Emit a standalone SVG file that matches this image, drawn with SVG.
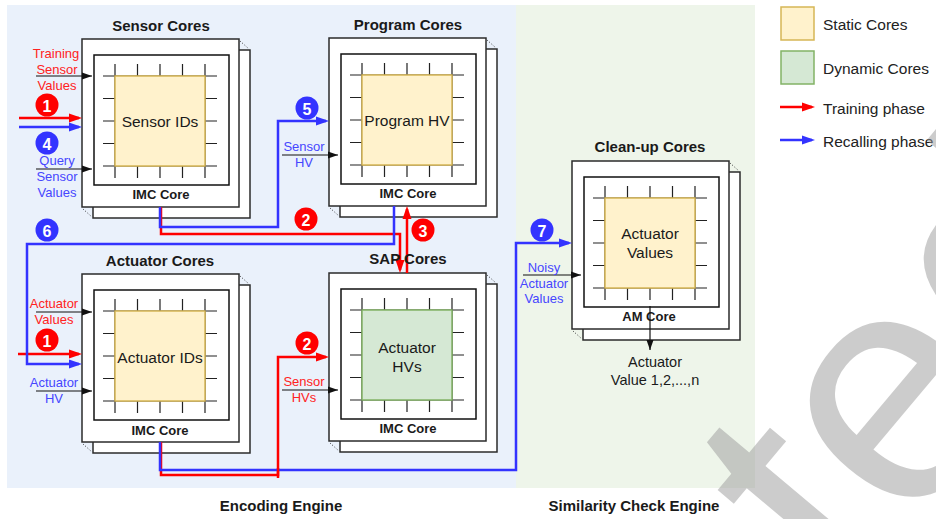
<svg xmlns="http://www.w3.org/2000/svg" xmlns:xlink="http://www.w3.org/1999/xlink" width="936" height="519" viewBox="0 0 936 519">
  <style>
    text { font-family: "Liberation Sans", Arial, sans-serif; text-anchor: middle; dominant-baseline: central; fill: #1a1a1a; }
    .title { font-size: 15px; font-weight: bold; }
    .corelbl { font-size: 13px; font-weight: bold; }
    .inner { font-size: 15.5px; }
    .side { font-size: 13px; }
    .red { fill: #ff2222; }
    .blue { fill: #4646ff; }
    .num { font-size: 16px; font-weight: bold; fill: #ffffff; }
    .legend { font-size: 15.5px; text-anchor: start; fill: #222; }
    .engine { font-size: 15px; font-weight: bold; }
    .box { fill: #ffffff; stroke: #2b2b2b; stroke-width: 1.5; }
    .grid { stroke: #222; stroke-width: 1.2; }
    .static { fill: #fff2cc; stroke: #d6b656; stroke-width: 1.5; }
    .dynamic { fill: #d5e8d4; stroke: #82b366; stroke-width: 1.5; }
    .wr { fill: none; stroke: #ff0000; stroke-width: 2.5; }
    .wb { fill: none; stroke: #3333ff; stroke-width: 2.5; }
    .wk { fill: none; stroke: #111; stroke-width: 1.2; }
    .cr { fill: #ff0000; }
    .cb { fill: #3333ff; }
  </style>
  <defs>
    <marker id="ah-red" markerUnits="userSpaceOnUse" markerWidth="14" markerHeight="10" refX="10" refY="5" orient="auto">
      <path d="M0,0.5 L13,5 L0,9.5 z" fill="#ff0000"/>
    </marker>
    <marker id="ah-blue" markerUnits="userSpaceOnUse" markerWidth="14" markerHeight="10" refX="10" refY="5" orient="auto">
      <path d="M0,0.5 L13,5 L0,9.5 z" fill="#3333ff"/>
    </marker>
    <marker id="ah-black" markerUnits="userSpaceOnUse" markerWidth="11" markerHeight="8" refX="10" refY="4" orient="auto">
      <path d="M0,0.5 L10,4 L0,7.5 z" fill="#111"/>
    </marker>
    <!-- stacked core frame with crossbar grid; origin = front box top-left -->
    <g id="frame">
      <rect class="box" x="11" y="11" width="157" height="168"/>
      <rect class="box" x="0" y="0" width="157" height="168"/>
      <path d="M158,2 L167,10 M1,170 L10,178" stroke="#333" stroke-width="1" stroke-dasharray="1 2" fill="none"/>
      <rect x="12" y="16" width="135" height="130" fill="#fff" stroke="#111" stroke-width="1.5"/>
      <path class="grid" d="M21,37 H135 M21,59.5 H135 M21,82 H135 M21,104.5 H135 M21,127 H135 M33,25 V139 M55.5,25 V139 M78,25 V139 M100.5,25 V139 M123,25 V139"/>
    </g>
  </defs>

  <!-- engine backgrounds -->
  <rect x="7" y="5" width="509" height="483" fill="#eaf1fb"/>
  <rect x="516" y="5" width="239" height="483" fill="#eef5ea"/>
  <text class="engine" x="281" y="505">Encoding Engine</text>
  <text class="engine" x="634" y="505">Similarity Check Engine</text>

  <!-- legend -->
  <g id="legend">
    <rect class="static" x="781" y="7" width="33" height="33"/>
    <text class="legend" x="823" y="24">Static Cores</text>
    <rect class="dynamic" x="781" y="51" width="33" height="33"/>
    <text class="legend" x="823" y="68">Dynamic Cores</text>
    <path class="wr" d="M780,107 H812" marker-end="url(#ah-red)"/>
    <text class="legend" x="823" y="108">Training phase</text>
    <path class="wb" d="M780,140 H812" marker-end="url(#ah-blue)"/>
    <text class="legend" x="823" y="141">Recalling phase</text>
  </g>

  <!-- cores -->
  <g id="sensor-cores">
    <text class="title" x="161" y="25">Sensor Cores</text>
    <use xlink:href="#frame" href="#frame" x="82" y="39"/>
    <rect class="static" x="115" y="76" width="90" height="90"/>
    <text class="inner" x="160" y="121">Sensor IDs</text>
    <text class="corelbl" x="161" y="194">IMC Core</text>
  </g>
  <g id="program-cores">
    <text class="title" x="408" y="24">Program Cores</text>
    <use xlink:href="#frame" href="#frame" x="329" y="38"/>
    <rect class="static" x="362" y="75" width="90" height="90"/>
    <text class="inner" x="407" y="120">Program HV</text>
    <text class="corelbl" x="408" y="193">IMC Core</text>
  </g>
  <g id="actuator-cores">
    <text class="title" x="160" y="260">Actuator Cores</text>
    <use xlink:href="#frame" href="#frame" x="82" y="274"/>
    <rect class="static" x="115" y="311" width="90" height="90"/>
    <text class="inner" x="160" y="357">Actuator IDs</text>
    <text class="corelbl" x="160" y="430">IMC Core</text>
  </g>
  <g id="sap-cores">
    <use xlink:href="#frame" href="#frame" x="329" y="273"/>
    <rect class="dynamic" x="362" y="310" width="90" height="90"/>
    <text class="inner" x="407" y="347">Actuator</text>
    <text class="inner" x="407" y="366">HVs</text>
    <text class="corelbl" x="408" y="428">IMC Core</text>
  </g>
  <g id="cleanup-cores">
    <text class="title" x="650" y="146">Clean-up Cores</text>
    <use xlink:href="#frame" href="#frame" x="572" y="161"/>
    <rect class="static" x="605" y="198" width="90" height="90"/>
    <text class="inner" x="650" y="233">Actuator</text>
    <text class="inner" x="650" y="252">Values</text>
    <text class="corelbl" x="649" y="316">AM Core</text>
  </g>

  <!-- connectors -->
  <g id="connectors">
    <!-- black data inputs -->
    <path class="wk" d="M36,76 H92" marker-end="url(#ah-black)"/>
    <path class="wk" d="M36,169 H92" marker-end="url(#ah-black)"/>
    <path class="wk" d="M282,155 H338" marker-end="url(#ah-black)"/>
    <path class="wk" d="M36,312 H92" marker-end="url(#ah-black)"/>
    <path class="wk" d="M36,391 H92" marker-end="url(#ah-black)"/>
    <path class="wk" d="M282,390 H338" marker-end="url(#ah-black)"/>
    <path class="wk" d="M523,275 H581" marker-end="url(#ah-black)"/>
    <path class="wk" d="M650,306 V350" marker-end="url(#ah-black)"/>

    <!-- training phase -->
    <path class="wr" d="M19,118 H79" marker-end="url(#ah-red)"/>
    <path class="wr" d="M18,354 H79" marker-end="url(#ah-red)"/>
    <path class="wr" d="M161,207 V234 H400 V270" marker-end="url(#ah-red)"/>
    <path class="wr" d="M407,273 V209" marker-end="url(#ah-red)"/>
    <path class="wr" d="M161,442 V475 H278 V357 H326" marker-end="url(#ah-red)"/>

    <!-- recalling phase -->
    <path class="wb" d="M19,127 H79" marker-end="url(#ah-blue)"/>
    <path class="wb" d="M160,207 V227 H278 V121 H326" marker-end="url(#ah-blue)"/>
    <path class="wb" d="M394,206 V244 H27 V364 H79" marker-end="url(#ah-blue)"/>
    <path class="wb" d="M160,442 V470 H516 V243 H569" marker-end="url(#ah-blue)"/>
    <path class="wr" d="M278,468 V478"/>
  </g>

  <!-- SAP title sits over its incoming lines -->
  <text class="title" x="408" y="258">SAP Cores</text>

  <!-- side labels -->
  <g id="labels">
    <text class="side red" x="56" y="53">Training</text>
    <text class="side red" x="57" y="69">Sensor</text>
    <text class="side red" x="57" y="85">Values</text>
    <text class="side blue" x="57" y="160">Query</text>
    <text class="side blue" x="57" y="176">Sensor</text>
    <text class="side blue" x="57" y="192">Values</text>
    <text class="side blue" x="304" y="146">Sensor</text>
    <text class="side blue" x="304" y="162">HV</text>
    <text class="side red" x="54" y="303">Actuator</text>
    <text class="side red" x="54" y="319">Values</text>
    <text class="side blue" x="54" y="382">Actuator</text>
    <text class="side blue" x="54" y="398">HV</text>
    <text class="side red" x="304" y="381">Sensor</text>
    <text class="side red" x="304" y="397">HVs</text>
    <text class="side blue" x="544" y="267">Noisy</text>
    <text class="side blue" x="544" y="283">Actuator</text>
    <text class="side blue" x="544" y="298">Values</text>
    <text class="inner" x="655" y="362" style="font-size:14.5px">Actuator</text>
    <text class="inner" x="655" y="380" style="font-size:14.5px">Value 1,2,...,n</text>
  </g>

  <!-- step badges -->
  <g id="steps">
    <circle class="cr" cx="47" cy="105" r="11.5"/><text class="num" x="47" y="106">1</text>
    <circle class="cb" cx="47" cy="143" r="11.5"/><text class="num" x="47" y="144">4</text>
    <circle class="cb" cx="47" cy="230" r="11.5"/><text class="num" x="47" y="231">6</text>
    <circle class="cr" cx="47" cy="340" r="11.5"/><text class="num" x="47" y="341">1</text>
    <circle class="cb" cx="307" cy="108" r="11.5"/><text class="num" x="307" y="109">5</text>
    <circle class="cr" cx="306" cy="219" r="11.5"/><text class="num" x="306" y="220">2</text>
    <circle class="cr" cx="423" cy="230" r="11.5"/><text class="num" x="423" y="231">3</text>
    <circle class="cr" cx="307" cy="343" r="11.5"/><text class="num" x="307" y="344">2</text>
    <circle class="cb" cx="542" cy="230" r="11.5"/><text class="num" x="542" y="231">7</text>
  </g>

  <!-- diagonal stamp -->
  <text x="0" y="0" transform="translate(848,606) rotate(-50)" style="font-size:330px;text-anchor:start;dominant-baseline:alphabetic;fill:#999;fill-opacity:0.5">ted</text>
</svg>
